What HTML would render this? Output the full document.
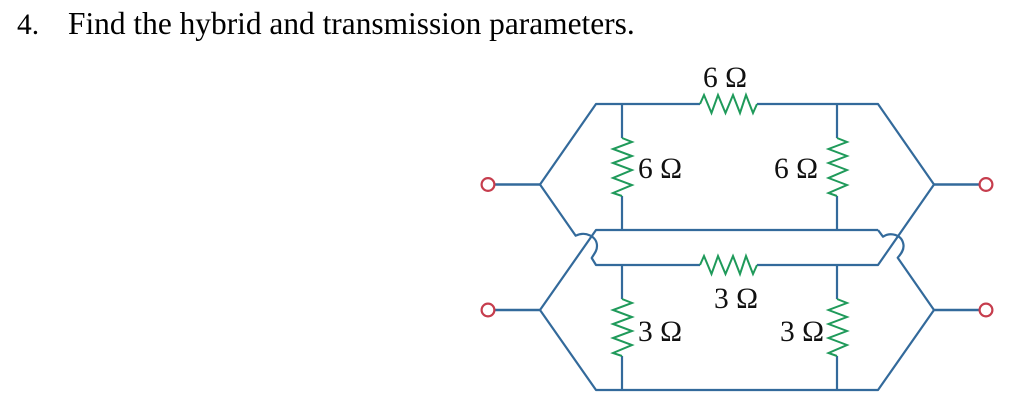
<!DOCTYPE html>
<html><head><meta charset="utf-8"><style>
html,body{margin:0;padding:0;background:#fff;width:1016px;height:403px;overflow:hidden}
svg{display:block}
text{font-family:"Liberation Serif",serif;fill:#111}
.w{fill:none;stroke:#336a9b;stroke-width:2.200;stroke-linejoin:round}
.s{fill:none;stroke:#336a9b;stroke-width:2.600}
.r{fill:none;stroke:#1f9a5a;stroke-width:2;stroke-linejoin:miter}
.t{fill:#fff;stroke:#c63d4d;stroke-width:2.200}
.l{font-size:29.500px}
</style></head><body>
<svg width="1016" height="403" viewBox="0 0 1016 403" xmlns="http://www.w3.org/2000/svg">
<text x="17" y="34" font-size="29.500" style="fill:#000">4.</text>
<text x="68" y="34" font-size="31.400" style="fill:#000">Find the hybrid and transmission parameters.</text>

<!-- wires -->
<path class="w" d="M540 184.500L596 104H700M757 104H878L934 184.500"/>
<path class="w" d="M540 184.500L575.700 235.700C585 231 597 236 597 246C597 251 594 254 591.700 258L596 265H700M757 265H878L934 184.500"/>
<path class="w" d="M878 230H596L540 310M540 310L596 390H878L934 310M934 310L897.700 257.700C901 254 904 250 903.500 245C902 234 890 232 883 236.700L878 230"/>
<path class="w" d="M622 104V138M622 196V230M837 104V138M837 196V230M622 265V299M622 356V390M837 265V299M837 356V390"/>
<path class="s" d="M494.500 184.500H540M934 184.500H979.500M494.500 310H540M934 310H979.500"/>

<!-- horizontal resistors -->
<path class="r" d="M700 104L704 95L711.500 113L718 95L725.500 113L733 95L740 113L746 95L753 113L757 104"/>
<path class="r" d="M700 265L704 256L711.500 274L718 256L725.500 274L733 256L740 274L746 256L753 274L757 265"/>
<!-- vertical resistors -->
<path class="r" d="M622 138L632 142L613 149L632 156L613 163L632 170L613 178L632 185L613 193L622 196"/>
<path class="r" d="M837 138L847 142L828.500 149L847 156L828.500 163L847 170L828.500 178L847 185L828.500 193L837 196"/>
<path class="r" d="M622 299L632 303L613 310L632 317L613 324L632 331L613 338L632 345L613 353L622 356"/>
<path class="r" d="M837 299L847 303L828.500 310L847 317L828.500 324L847 331L828.500 338L847 345L828.500 353L837 356"/>

<!-- terminals -->
<circle class="t" cx="488" cy="184.500" r="6.400"/>
<circle class="t" cx="986" cy="184.500" r="6.400"/>
<circle class="t" cx="488" cy="310" r="6.400"/>
<circle class="t" cx="986" cy="310" r="6.400"/>

<!-- labels -->
<text class="l" x="703" y="87">6 Ω</text>
<text class="l" x="638" y="178">6 Ω</text>
<text class="l" x="774" y="178">6 Ω</text>
<text class="l" x="714" y="308">3 Ω</text>
<text class="l" x="638" y="341">3 Ω</text>
<text class="l" x="780" y="341">3 Ω</text>
</svg>
</body></html>
